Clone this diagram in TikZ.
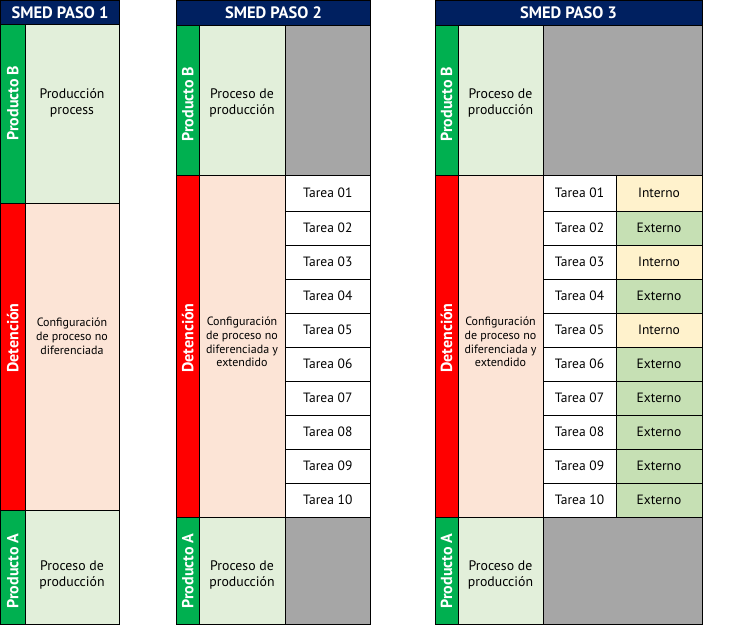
\documentclass[tikz,border=0pt]{standalone}
\usepackage{fontspec}
\setmainfont{PT Sans}
\definecolor{hdrblue}{HTML}{002060}
\definecolor{prodgreen}{HTML}{00B050}
\definecolor{detred}{HTML}{FF0000}
\definecolor{lightgreen}{HTML}{E2EFDA}
\definecolor{peach}{HTML}{FCE4D6}
\definecolor{greycell}{HTML}{A6A6A6}
\definecolor{internocol}{HTML}{FFF2CC}
\definecolor{externocol}{HTML}{C6E0B4}
\newcommand{\mycell}[6][]{\node[cellbox,#1,minimum width=#5pt,minimum height=#6pt] (#2) at (#3,#4) {};}
\begin{document}
\begin{tikzpicture}[x=1pt,y=-1pt,
  cellbox/.style={draw=black,line width=0.9pt,inner sep=0pt,outer sep=0pt,anchor=north west},
  hdrtext/.style={text=white,font={\fontsize{16.5}{18}\selectfont\bfseries},inner sep=0pt},
  vlabel/.style={text=white,rotate=90,font={\fontsize{16}{18}\selectfont\bfseries},inner sep=0pt},
  bodytext/.style={align=center,font={\fontsize{13.8}{16}\selectfont},inner sep=0pt},
  cfgtext/.style={align=center,font={\fontsize{12}{13.8}\selectfont},inner sep=0pt},
  tasktext/.style={font={\fontsize{13.5}{16}\selectfont},inner sep=0pt}]
\useasboundingbox (0,0) rectangle (750,625);
\fill[white] (0,0) rectangle (750,625);

% ---------- Panel 1 ----------
\mycell[fill=hdrblue]{h1}{0.5}{0.5}{118.5}{23.5}
\node[hdrtext] (h1t) at (60,12.5) {SMED PASO 1};
\mycell[fill=prodgreen]{p1bl}{0.5}{24}{24.5}{179}
\mycell[fill=lightgreen]{p1b}{25}{24}{94}{179}
\mycell[fill=detred]{p1dl}{0.5}{203}{24.5}{307}
\mycell[fill=peach]{p1d}{25}{203}{94}{307}
\mycell[fill=prodgreen]{p1al}{0.5}{510}{24.5}{114}
\mycell[fill=lightgreen]{p1a}{25}{510}{94}{114}
\node[vlabel] (p1blt) at (12.75,103) {Producto B};
\node[vlabel] (p1dlt) at (12.75,338) {Detención};
\node[vlabel] (p1alt) at (12.75,571) {Producto A};
\node[bodytext] (p1bt) at (72,103) {Producción\\process};
\node[cfgtext] (p1dt) at (72,336) {Configuración\\de proceso no\\diferenciada};
\node[bodytext] (p1at) at (72,574.5) {Proceso de\\producción};

% ---------- Panel 2 ----------
\mycell[fill=hdrblue]{h2}{176.5}{0.5}{194}{24.5}
\node[hdrtext] (h2t) at (273.5,12.5) {SMED PASO 2};
\mycell[fill=prodgreen]{p2bl}{176.5}{25}{22.5}{150}
\mycell[fill=lightgreen]{p2b}{199}{25}{86}{150}
\mycell[fill=greycell]{p2bg}{285}{25}{85.5}{150}
\mycell[fill=detred]{p2dl}{176.5}{175}{22.5}{342}
\mycell[fill=peach]{p2d}{199}{175}{86}{342}
\mycell[fill=prodgreen]{p2al}{176.5}{517}{22.5}{107}
\mycell[fill=lightgreen]{p2a}{199}{517}{86}{107}
\mycell[fill=greycell]{p2ag}{285}{517}{85.5}{107}
\node[vlabel] (p2blt) at (187.75,104) {Producto B};
\node[vlabel] (p2dlt) at (187.75,338) {Detención};
\node[vlabel] (p2alt) at (187.75,571) {Producto A};
\node[bodytext] (p2bt) at (242,103) {Proceso de\\producción};
\node[cfgtext] (p2dt) at (242,342) {Configuración\\de proceso no\\diferenciada y\\extendido};
\node[bodytext] (p2at) at (242,574.5) {Proceso de\\producción};
\foreach \n/\yy/\hh in {01/175/36,02/211/34,03/245/34,04/279/34,05/313/34,06/347/34,07/381/34,08/415/34,09/449/34,10/483/34}{
  \mycell[fill=white]{p2t\n}{285}{\yy}{85.5}{\hh}
  \node[tasktext] (p2tt\n) at (p2t\n.center) {Tarea \n};
}

% ---------- Panel 3 ----------
\mycell[fill=hdrblue]{h3}{435}{0.5}{267}{24.5}
\node[hdrtext] (h3t) at (568.5,12.5) {SMED PASO 3};
\mycell[fill=prodgreen]{p3bl}{435}{25}{23}{150}
\mycell[fill=lightgreen]{p3b}{458}{25}{85}{150}
\mycell[fill=greycell]{p3bg}{543}{25}{159}{150}
\mycell[fill=detred]{p3dl}{435}{175}{23}{342}
\mycell[fill=peach]{p3d}{458}{175}{85}{342}
\mycell[fill=prodgreen]{p3al}{435}{517}{23}{107}
\mycell[fill=lightgreen]{p3a}{458}{517}{85}{107}
\mycell[fill=greycell]{p3ag}{543}{517}{159}{107}
\node[vlabel] (p3blt) at (446.5,104) {Producto B};
\node[vlabel] (p3dlt) at (446.5,338) {Detención};
\node[vlabel] (p3alt) at (446.5,571) {Producto A};
\node[bodytext] (p3bt) at (500.5,103) {Proceso de\\producción};
\node[cfgtext] (p3dt) at (500.5,342) {Configuración\\de proceso no\\diferenciada y\\extendido};
\node[bodytext] (p3at) at (500.5,574.5) {Proceso de\\producción};
\foreach \n/\yy/\hh/\st/\col in {01/175/36/Interno/internocol,02/211/34/Externo/externocol,03/245/34/Interno/internocol,04/279/34/Externo/externocol,05/313/34/Interno/internocol,06/347/34/Externo/externocol,07/381/34/Externo/externocol,08/415/34/Externo/externocol,09/449/34/Externo/externocol,10/483/34/Externo/externocol}{
  \mycell[fill=white]{p3t\n}{543}{\yy}{73}{\hh}
  \mycell[fill=\col]{p3s\n}{616}{\yy}{86}{\hh}
  \node[tasktext] (p3tt\n) at (p3t\n.center) {Tarea \n};
  \node[tasktext] (p3st\n) at (p3s\n.center) {\st};
}
\end{tikzpicture}
\end{document}
